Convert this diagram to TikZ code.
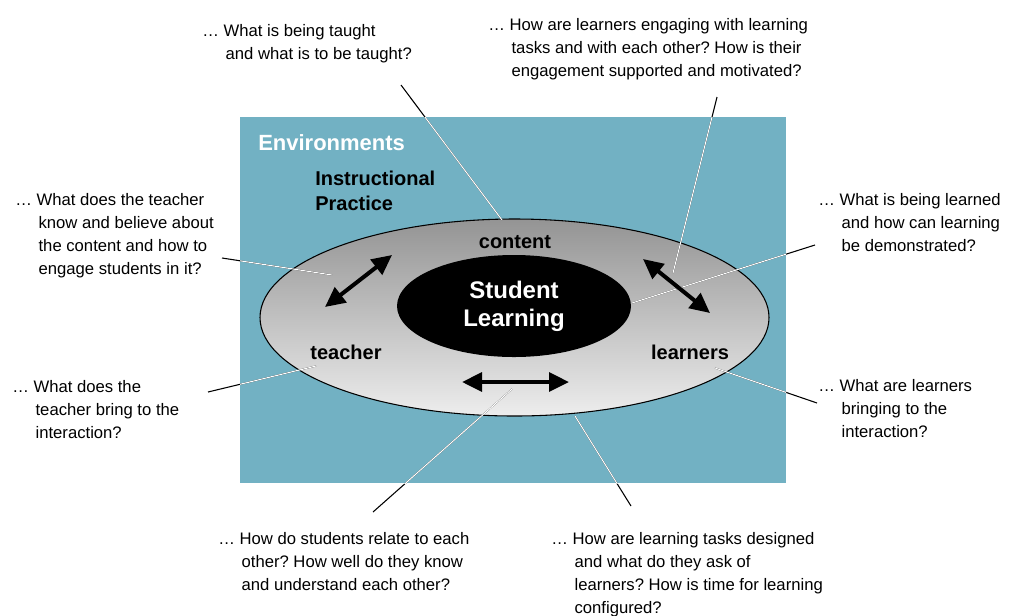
\documentclass[tikz,border=0pt]{standalone}
\usepackage{fontspec}
\setmainfont{Liberation Sans}
\frenchspacing
\usetikzlibrary{shapes.geometric,arrows.meta}
\definecolor{envteal}{RGB}{114,177,195}
\tikzset{>={Triangle[length=15pt,width=14pt]}}
\newcommand{\hang}{\hspace*{17.5pt}}

\begin{document}
\begin{tikzpicture}[x=0.75pt,y=-0.75pt,
		ask/.style={anchor=base west,align=left,inner sep=0pt,font=\fontsize{12.5}{17.25}\selectfont},
		lbl/.style={anchor=base,inner sep=0pt,font=\fontsize{15}{18.75}\selectfont\bfseries},
		link/.style={line width=0.8pt},
		twoway/.style={<->,line width=3pt}]
		\useasboundingbox (0,0) rectangle (1023,615);
		\coordinate (envNW) at (240,117);
		\coordinate (envSE) at (786,483);
		\fill[envteal] (envNW) rectangle (envSE);
		\node[ellipse,draw,line width=0.8pt,top color=black!42,bottom color=black!7,
			minimum width=381.75pt,minimum height=147.75pt,inner sep=0pt] (practice) at (514.5,317.5) {};
		\node[ellipse,fill=black,text=white,align=center,inner sep=0pt,
			minimum width=175.5pt,minimum height=76.5pt,
			font=\fontsize{18}{21}\selectfont\bfseries] (learning) at (514,306) {Student\\Learning};
		% questions (base = last line)
		\node[ask] (taught) at (202,59) {… What is being taught\\\hang and what is to be taught?};
		\node[ask] (engaging) at (488,76) {… How are learners engaging with learning\\\hang tasks and with each other? How is their\\\hang engagement supported and motivated?};
		\node[ask] (knows) at (15,274) {… What does the teacher\\\hang know and believe about\\\hang the content and how to\\\hang engage students in it?};
		\node[ask] (learned) at (818,251) {… What is being learned\\\hang and how can learning\\\hang be demonstrated?};
		\node[ask] (brings) at (12,438) {… What does the\\\hang teacher bring to the\\\hang interaction?};
		\node[ask] (bringing) at (818,437) {… What are learners\\\hang bringing to the\\\hang interaction?};
		\node[ask] (relate) at (218,590) {… How do students relate to each\\\hang other? How well do they know\\\hang and understand each other?};
		\node[ask] (designed) at (551,613) {… How are learning tasks designed\\\hang and what do they ask of\\\hang learners? How is time for learning\\\hang configured?};
		% leader lines
		\coordinate (q1) at (401,85);  \coordinate (p1) at (502,220);
		\coordinate (q2) at (717,97);  \coordinate (p2) at (673,273);
		\coordinate (q3) at (222,258); \coordinate (p3) at (332,275);
		\coordinate (q4) at (208,392); \coordinate (p4) at (316,366);
		\coordinate (q5) at (373,512); \coordinate (p5) at (512,389);
		\coordinate (q6) at (631,506); \coordinate (p6) at (575,416);
		\coordinate (q7) at (815,245); \coordinate (p7) at (632,303);
		\coordinate (q8) at (817,403); \coordinate (p8) at (715,368);
		\foreach \q in {1,...,8}
			\draw[link] (q\q) -- (p\q);
		\begin{scope}
			\clip (envNW) rectangle (envSE);
			\foreach \q in {1,...,8}
				\draw[link,white] (q\q) -- (p\q);
		\end{scope}
		% labels
		\node[anchor=base west,inner sep=0pt,text=white,font=\fontsize{16.5}{20}\selectfont\bfseries] (env) at (258,150) {Environments};
		\node[anchor=base west,align=left,inner sep=0pt,font=\fontsize{15}{18.75}\selectfont\bfseries] (instr) at (315,210) {Instructional\\Practice};
		\node[lbl] (content) at (515,248) {content};
		\node[lbl] (teacher) at (346,359) {teacher};
		\node[lbl] (learners) at (690,359) {learners};
		% relations
		\coordinate (a1) at (325,307); \coordinate (a2) at (392,255);
		\coordinate (b1) at (643,259); \coordinate (b2) at (710,313);
		\coordinate (c1) at (462,382); \coordinate (c2) at (569,382);
		\draw[twoway] (a1) -- (a2);
		\draw[twoway] (b1) -- (b2);
		\draw[twoway] (c1) -- (c2);
	\end{tikzpicture}
\end{document}
